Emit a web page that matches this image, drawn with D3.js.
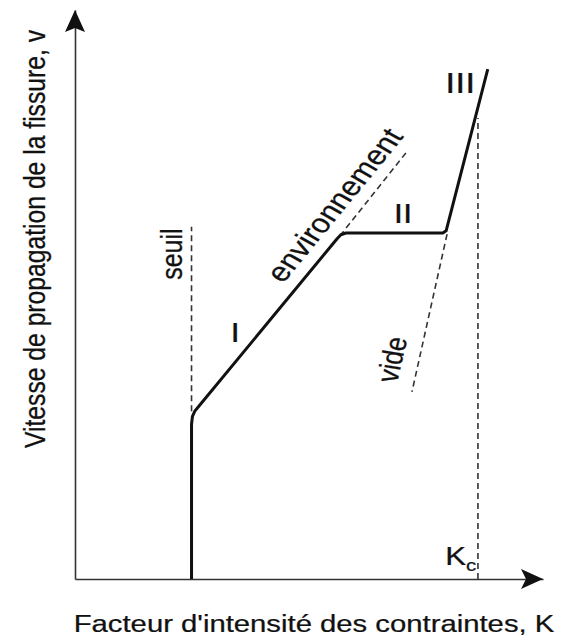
<!DOCTYPE html>
<html>
<head>
<meta charset="utf-8">
<script src="https://cdn.jsdelivr.net/npm/d3@7"></script>
<style>
  body { margin: 0; background: #fff; }
  svg { display: block; }
  text { font-family: "Liberation Sans", Arial, Helvetica, sans-serif; fill: #111; stroke: #111; stroke-width: 0.25; }
</style>
</head>
<body>
<script>
// Courbe de propagation de fissure (unites arbitraires, K et v de 0 a 100)
const curveK = [24.9, 24.9, 25.1, 25.6, 26.5, 56.0, 56.8, 57.9, 78.6, 79.3, 88.2];
const curveV = [0, 27.2, 28.6, 29.5, 30.4, 59.8, 60.5, 60.8, 60.8, 61.2, 89.6];

// lignes pointillees : seuil, Kc, extrapolation environnement, extrapolation vide
const guideNames = ["seuil", "Kc", "environnement", "vide"];
const guideK = [[24.9, 24.9], [86.1, 86.1], [56.6, 71.2], [79.5, 72.0]];
const guideV = [[29.5, 61.9], [0, 81.0], [60.3, 75.4], [60.6, 32.9]];

// annotations
const labelText = ["seuil", "I", "environnement", "II", "vide", "III"];
const labelK = [22.9, 34.2, 57.4, 70.1, 69.9, 82.3];
const labelV = [57.1, 41.7, 64.8, 62.6, 38.3, 85.4];
const labelAngle = [-90, 0, -50.6, 0, -77, 0];
const labelSize = [25, 28, 27, 28, 25, 30];

const xTitle = "Facteur d'intensité des contraintes, K";
const yTitle = "Vitesse de propagation de la fissure, v";

const width = 570, height = 643;
const SX = 1.2; // l'image d'origine est etiree horizontalement

const x = d3.scaleLinear().domain([0, 100]).range([75, 543]);
const y = d3.scaleLinear().domain([0, 100]).range([579, 10]);

const svg = d3.select("body").append("svg")
    .attr("width", width)
    .attr("height", height);

// angle avant etirement pour obtenir l'angle voulu a l'ecran
function preAngle(deg) {
  const r = deg * Math.PI / 180;
  return Math.atan2(SX * Math.sin(r), Math.cos(r)) * 180 / Math.PI;
}

// axes sans graduations
svg.append("g")
    .attr("transform", `translate(0,${y(0)})`)
    .call(d3.axisBottom(x).tickValues([]).tickSizeOuter(0))
    .call(g => g.select(".domain").attr("stroke", "#333").attr("stroke-width", 1.6));

svg.append("g")
    .attr("transform", `translate(${x(0)},0)`)
    .call(d3.axisLeft(y).tickValues([]).tickSizeOuter(0))
    .call(g => g.select(".domain").attr("stroke", "#333").attr("stroke-width", 1.6));

// fleches
const xt = x(100), yt = y(0);
svg.append("path")
    .attr("d", `M${xt},${yt} L${xt - 22},${yt - 10} L${xt - 17},${yt} L${xt - 22},${yt + 10} Z`)
    .attr("fill", "#111");
const ax = x(0), ay = y(100);
svg.append("path")
    .attr("d", `M${ax},${ay} L${ax + 10},${ay + 22} L${ax},${ay + 18} L${ax - 10},${ay + 22} Z`)
    .attr("fill", "#111");

// pointilles
const line = d3.line().x(d => x(d[0])).y(d => y(d[1]));
svg.append("g").selectAll("path")
  .data(guideNames.map((n, i) => guideK[i].map((k, j) => [k, guideV[i][j]])))
  .join("path")
    .attr("d", line)
    .attr("fill", "none")
    .attr("stroke", "#333")
    .attr("stroke-width", 1.6)
    .attr("stroke-dasharray", "6,4");

// courbe principale
svg.append("path")
    .datum(curveK.map((k, i) => [k, curveV[i]]))
    .attr("d", line)
    .attr("fill", "none")
    .attr("stroke", "#111")
    .attr("stroke-width", 3)
    .attr("stroke-linejoin", "round");

// etiquettes
svg.append("g").selectAll("text")
  .data(labelText)
  .join("text")
    .attr("transform", (d, i) => `translate(${x(labelK[i])},${y(labelV[i])}) scale(${SX},1) rotate(${preAngle(labelAngle[i])})`)
    .attr("text-anchor", "middle")
    .attr("font-size", (d, i) => labelSize[i])
    .text(d => d);

// Kc
const kc = svg.append("text")
    .attr("transform", `translate(${x(79.1)},${y(2.5)}) scale(${SX},1)`)
    .attr("font-size", 26);
kc.append("tspan").text("K");
kc.append("tspan").attr("font-size", 17).attr("dy", 6).text("c");

// titres des axes
svg.append("text")
    .attr("transform", `translate(314,632) scale(${SX},1)`)
    .attr("text-anchor", "middle")
    .attr("font-size", 24.4)
    .text(xTitle);

svg.append("text")
    .attr("transform", `translate(45,239) scale(${SX},1) rotate(-90)`)
    .attr("text-anchor", "middle")
    .attr("font-size", 24.7)
    .text(yTitle);
</script>
</body>
</html>
